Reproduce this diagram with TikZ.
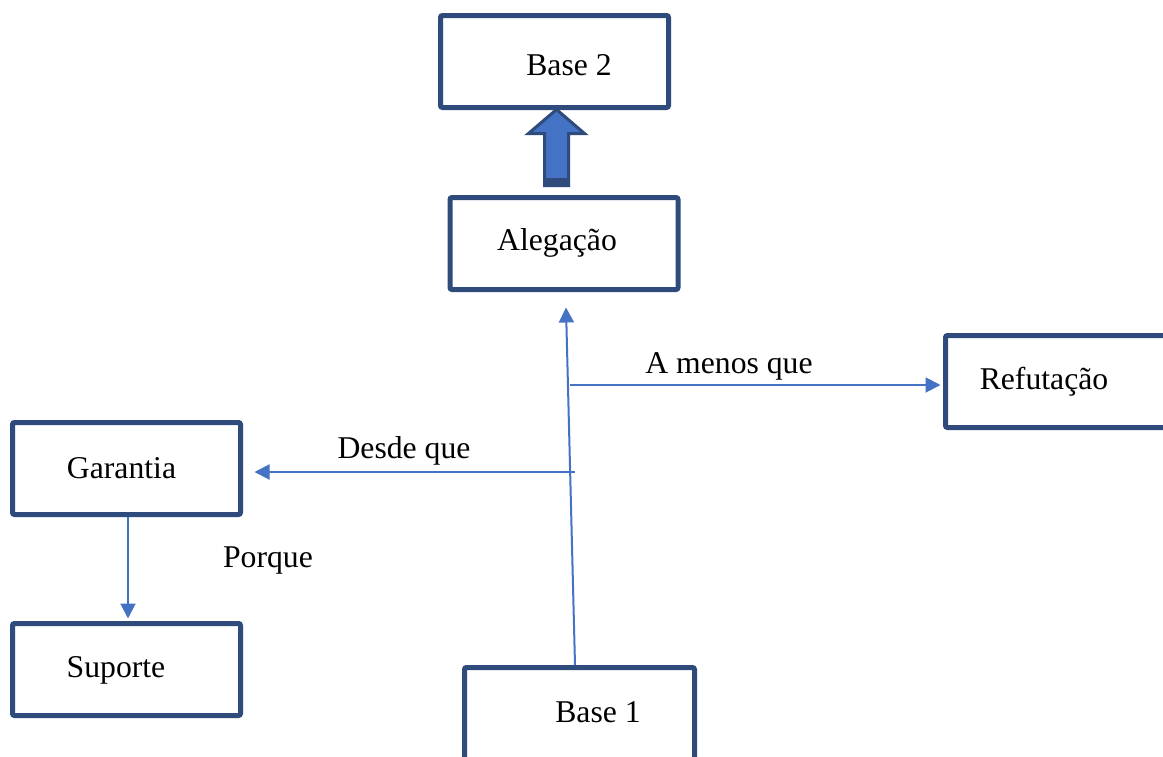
\documentclass[tikz,border=0pt]{standalone}
\usepackage{fontspec}
\setmainfont{Liberation Serif}
\usetikzlibrary{calc,arrows.meta}
\definecolor{boxblue}{HTML}{2F4B7C}
\definecolor{lineblue}{HTML}{4472C4}
\tikzset{
  boxnode/.style={draw=boxblue, line width=2.5pt, rounded corners=1pt, minimum width=114pt, minimum height=46pt, inner sep=0pt},
  txt/.style={anchor=base, inner sep=0pt, font=\fontsize{15.85pt}{19pt}\selectfont},
  conn/.style={draw=lineblue, line width=1pt, -{Triangle[length=7.5pt,width=7.5pt]}},
  plain/.style={draw=lineblue, line width=1pt}
}
\begin{document}
\begin{tikzpicture}[x=0.5pt,y=-0.5pt]
\useasboundingbox (0,0) rectangle (1163,756);
\clip (0,0) rectangle (1163,756);
\fill[white] (0,0) rectangle (1163,756);
% boxes
\node[boxnode] (b2) at (554.5,61.5) {};
\node[boxnode] (aleg) at (564,243.5) {};
\node[boxnode, minimum width=115pt] (ref) at (1060.5,381.5) {};
\node[boxnode] (gar) at (126.5,468.5) {};
\node[boxnode] (sup) at (126.5,669.5) {};
\node[boxnode, minimum width=115pt] (b1) at (579.5,713.5) {};
% texts
\node[txt] (tb2) at (569,75) {Base 2};
\node[txt] (taleg) at (557,250) {Alegação};
\node[txt] (tref) at (1044,389) {Refutação};
\node[txt] (tgar) at (121.5,478) {Garantia};
\node[txt] (tsup) at (116,677) {Suporte};
\node[txt] (tb1) at (598,722) {Base 1};
\node[txt] (lmenos) at (729,373) {A menos que};
\node[txt] (ldesde) at (404,458) {Desde que};
\node[txt] (lporque) at (268,567) {Porque};
% junction coordinates
\coordinate (j1) at (570,385);
\coordinate (j2) at (575,472);
% connectors
\draw[conn] ($(b1.north)+(-4.5,0)$) -- ($(aleg.south)+(2,15.5)$);
\draw[conn] (j1) -- ($(ref.west)+(-2.5,3.5)$);
\draw[conn] (j2) -- ($(gar.east)+(11.5,3.5)$);
\draw[conn] ($(gar.south)+(1.5,0)$) -- ($(sup.north)+(1.5,-2.5)$);
% thick block arrow from Alegação to Base 2
\begin{scope}[shift={(aleg.north)}]
\filldraw[fill=lineblue, draw=boxblue, line width=1.5pt, line join=miter]
  (-19.5,-9.5) -- (-19.5,-61.5) -- (-35.5,-61.5) -- (-7.5,-85.5) -- (20.5,-61.5) -- (4.5,-61.5) -- (4.5,-9.5) -- cycle;
\fill[boxblue] (-20.5,-8) rectangle (5.5,-17);
\end{scope}
\end{tikzpicture}
\end{document}
